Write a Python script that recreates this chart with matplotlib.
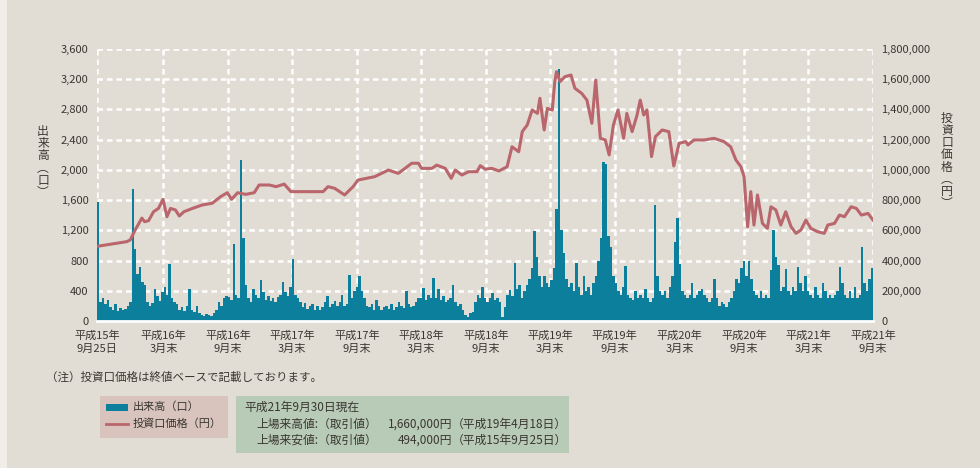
import numpy as np
import pandas as pd
import matplotlib.pyplot as plt
from matplotlib.patches import Rectangle

plt.rcParams['font.family'] = ['Noto Sans CJK JP', 'DejaVu Sans']

# 投資口価格 (円) - 終値ベース
price_dates = [
    '2003-09-25', '2003-12-18', '2003-12-28', '2004-01-11', '2004-01-30', '2004-02-07',
    '2004-02-18', '2004-03-03', '2004-03-17', '2004-03-30', '2004-04-10', '2004-04-20',
    '2004-05-04', '2004-05-15', '2004-05-28', '2004-06-21', '2004-07-19', '2004-08-16',
    '2004-09-09', '2004-09-28', '2004-10-10', '2004-10-27', '2004-11-19', '2004-12-13',
    '2004-12-27', '2005-01-25', '2005-02-13', '2005-03-08', '2005-03-27', '2005-05-14',
    '2005-06-26', '2005-07-10', '2005-07-29', '2005-08-26', '2005-09-19', '2005-10-03',
    '2005-11-19', '2005-12-28', '2006-01-25', '2006-02-13', '2006-03-04', '2006-03-23',
    '2006-04-01', '2006-04-30', '2006-05-14', '2006-06-07', '2006-06-24', '2006-07-05',
    '2006-07-24', '2006-08-12', '2006-09-05', '2006-09-14', '2006-09-28', '2006-10-17',
    '2006-11-06', '2006-11-29', '2006-12-13', '2007-01-01', '2007-01-11', '2007-01-25',
    '2007-02-08', '2007-02-23', '2007-03-02', '2007-03-14', '2007-03-23', '2007-04-06',
    '2007-04-13', '2007-04-18', '2007-04-28', '2007-05-12', '2007-05-29', '2007-06-09',
    '2007-06-28', '2007-07-13', '2007-07-27', '2007-08-07', '2007-08-20', '2007-09-03',
    '2007-09-14', '2007-09-26', '2007-10-09', '2007-10-25', '2007-11-03', '2007-11-18',
    '2007-12-02', '2007-12-11', '2007-12-21', '2007-12-30', '2008-01-12', '2008-01-23',
    '2008-02-11', '2008-03-01', '2008-03-15', '2008-03-30', '2008-04-18', '2008-04-24',
    '2008-05-11', '2008-06-09', '2008-07-07', '2008-08-04', '2008-08-23', '2008-09-07',
    '2008-09-21', '2008-09-30', '2008-10-10', '2008-10-19', '2008-10-28', '2008-11-07',
    '2008-11-21', '2008-12-05', '2008-12-15', '2008-12-29', '2009-01-12', '2009-01-26',
    '2009-02-10', '2009-02-24', '2009-03-10', '2009-03-24', '2009-04-07', '2009-04-26',
    '2009-05-15', '2009-05-25', '2009-06-13', '2009-06-27', '2009-07-11', '2009-07-30',
    '2009-08-14', '2009-08-28', '2009-09-16', '2009-09-30',
]
price_values = [
    494000, 525000, 536000, 602000, 681000, 657000,
    664000, 723000, 745000, 805000, 690000, 745000,
    735000, 695000, 723000, 745000, 768000, 779000,
    823000, 849000, 805000, 849000, 838000, 849000,
    900000, 900000, 889000, 906000, 856000, 856000,
    856000, 889000, 878000, 834000, 889000, 933000,
    955000, 999000, 977000, 1010000, 1044000, 1044000,
    1010000, 1010000, 1032000, 1010000, 944000, 999000,
    966000, 988000, 988000, 1028000, 1005000, 1010000,
    993000, 1021000, 1153000, 1120000, 1253000, 1297000,
    1396000, 1374000, 1474000, 1264000, 1407000, 1396000,
    1584000, 1650000, 1584000, 1617000, 1628000, 1540000,
    1507000, 1462000, 1308000, 1595000, 1209000, 1198000,
    1099000, 1297000, 1396000, 1209000, 1374000, 1253000,
    1363000, 1462000, 1363000, 1396000, 1088000, 1220000,
    1264000, 1253000, 1026000, 1176000, 1187000, 1165000,
    1198000, 1198000, 1209000, 1187000, 1153000, 1065000,
    1021000, 955000, 624000, 856000, 635000, 834000,
    646000, 613000, 756000, 735000, 635000, 723000,
    624000, 580000, 602000, 668000, 613000, 591000,
    580000, 635000, 646000, 701000, 690000, 756000,
    745000, 701000, 712000, 668000,
]

# 出来高 (口) - 週ごと、半期ごとに1行
volume = [
    1570, 250, 300, 220, 280, 180, 150, 220, 130, 170, 140, 160, 200, 250, 1750, 950, 620, 720, 520, 480, 250, 200, 240, 420, 330, 260, 380,
    450, 350, 760, 300, 250, 220, 150, 180, 130, 200, 420, 150, 120, 200, 100, 80, 70, 90, 80, 70, 110, 150, 250, 200, 300, 330,
    320, 280, 1020, 350, 300, 2130, 1100, 480, 300, 250, 420, 350, 300, 540, 380, 280, 330, 260, 300, 250, 320, 350, 520, 380, 330, 450,
    820, 350, 300, 250, 180, 240, 160, 200, 230, 150, 200, 140, 180, 250, 330, 180, 230, 260, 200, 250, 340, 200, 230, 610, 300, 400,
    450, 600, 400, 300, 200, 180, 220, 150, 280, 200, 150, 180, 200, 160, 220, 150, 180, 250, 200, 170, 400, 230, 180, 200, 250, 300,
    300, 440, 280, 350, 300, 570, 300, 430, 280, 330, 250, 280, 300, 480, 250, 200, 230, 150, 80, 50, 100, 120, 250, 350, 300, 450,
    300, 250, 300, 370, 280, 300, 250, 50, 180, 350, 410, 330, 770, 420, 470, 300, 400, 480, 560, 700, 1190, 850, 600, 450, 600, 500,
    450, 540, 700, 1480, 3340, 1200, 900, 550, 450, 500, 400, 770, 450, 350, 600, 400, 450, 350, 500, 600, 800, 1100, 2110, 2080, 1120, 980, 600,
    500, 400, 350, 450, 730, 350, 300, 280, 400, 300, 350, 300, 420, 300, 250, 300, 1540, 590, 400, 350, 400, 300, 450, 600, 1050, 1360,
    750, 400, 350, 300, 350, 500, 300, 350, 400, 430, 350, 300, 250, 300, 550, 300, 200, 250, 220, 180, 250, 300, 400, 550, 500, 700,
    800, 600, 800, 550, 400, 350, 300, 400, 300, 350, 300, 680, 1200, 850, 740, 400, 450, 690, 400, 350, 450, 400, 720, 500, 400, 590,
    400, 350, 300, 450, 350, 300, 500, 400, 300, 350, 300, 350, 400, 720, 500, 350, 300, 400, 300, 450, 300, 350, 980, 500, 400, 550, 700,
]

tick_dates = ['2003-09-25', '2004-03-31', '2004-09-30', '2005-03-31', '2005-09-30', '2006-03-31',
              '2006-09-30', '2007-03-31', '2007-09-30', '2008-03-31', '2008-09-30', '2009-03-31',
              '2009-09-30']
tick_labels = ['平成15年\n9月25日', '平成16年\n3月末', '平成16年\n9月末', '平成17年\n3月末',
               '平成17年\n9月末', '平成18年\n3月末', '平成18年\n9月末', '平成19年\n3月末',
               '平成19年\n9月末', '平成20年\n3月末', '平成20年\n9月末', '平成21年\n3月末',
               '平成21年\n9月末']

bg = '#e2ddd4'
teal = '#0b7f9c'
rose = '#b9666c'
txt = '#3a3632'

W, H = 980, 468


def fx(px):
    return px / W


def fy(py):
    return 1 - py / H


fig = plt.figure(figsize=(9.8, 4.68), dpi=100, facecolor=bg)
fig.patches.append(Rectangle((0, 0), fx(7), 1, transform=fig.transFigure,
                             facecolor='#f1eee9', edgecolor='none'))

ax = fig.add_axes([fx(97), fy(321), 776 / W, 272 / H])
ax.set_facecolor(bg)

vol_dates = pd.date_range('2003-09-25', '2009-09-24', periods=len(volume))
ax.bar(vol_dates, volume, width=7.0, align='edge', color=teal, linewidth=0, zorder=2)

ax.set_xlim(pd.Timestamp('2003-09-25'), pd.Timestamp('2009-09-30'))
ax.set_ylim(0, 3600)
ax.set_yticks(np.arange(0, 3601, 400))
ax.set_yticklabels([f'{v:,}' for v in range(0, 3601, 400)])
ax.set_xticks(pd.to_datetime(tick_dates))
ax.set_xticklabels(tick_labels, linespacing=1.35)

ax.grid(True, color='white', linestyle=(0, (2.2, 1.6)), linewidth=1.8, zorder=0)
ax.set_axisbelow(True)
for s in ['left', 'right', 'top']:
    ax.spines[s].set_visible(False)
ax.spines['bottom'].set_color('white')
ax.spines['bottom'].set_linewidth(2)
ax.spines['bottom'].set_zorder(3)
ax.tick_params(length=0, labelsize=8, colors=txt)
ax.tick_params(axis='y', pad=6)
ax.tick_params(axis='x', pad=7)

ax2 = ax.twinx()
ax2.plot(pd.to_datetime(price_dates), price_values, color=rose, linewidth=2.2,
         solid_joinstyle='round', zorder=3)
ax2.set_ylim(0, 1800000)
ax2.set_yticks(np.arange(0, 1800001, 200000))
ax2.set_yticklabels([f'{v:,}' for v in range(0, 1800001, 200000)])
for s in ax2.spines.values():
    s.set_visible(False)
ax2.tick_params(length=0, labelsize=8, colors=txt, pad=6)

# 縦書きの軸ラベル (縦書き用の括弧 ︵ ︶ を使う)
fig.text(fx(43), fy(162), '\n'.join('出来高︵口︶'), ha='center', va='center',
         fontsize=8.5, color=txt, linespacing=0.92)
fig.text(fx(947), fy(161), '\n'.join('投資口価格︵円︶'), ha='center', va='center',
         fontsize=8.5, color=txt, linespacing=0.92)

fig.text(fx(46), fy(377), '（注）投資口価格は終値ベースで記載しております。',
         ha='left', va='center', fontsize=8.3, color=txt)

# 凡例ボックス
fig.patches.append(Rectangle((fx(100), fy(438)), 128 / W, 42 / H,
                             transform=fig.transFigure, facecolor='#d8c4bd', edgecolor='none'))
fig.patches.append(Rectangle((fx(106), fy(411)), 22 / W, 7 / H,
                             transform=fig.transFigure, facecolor=teal, edgecolor='none'))
fig.lines.append(plt.Line2D([fx(106), fx(128)], [fy(424), fy(424)],
                            transform=fig.transFigure, color=rose, linewidth=2))
fig.text(fx(133), fy(407), '出来高（口）', ha='left', va='center', fontsize=8, color=txt)
fig.text(fx(133), fy(424), '投資口価格（円）', ha='left', va='center', fontsize=8, color=txt)

# 上場来高値・安値
fig.patches.append(Rectangle((fx(236), fy(453)), 333 / W, 57 / H,
                             transform=fig.transFigure, facecolor='#b8cbb7', edgecolor='none'))
fig.text(fx(244), fy(407), '平成21年9月30日現在', ha='left', va='center', fontsize=8.5, color=txt)
fig.text(fx(256), fy(424), '上場来高値:（取引値）', ha='left', va='center', fontsize=8.5, color=txt)
fig.text(fx(256), fy(440), '上場来安値:（取引値）', ha='left', va='center', fontsize=8.5, color=txt)
fig.text(fx(452), fy(424), '1,660,000円', ha='right', va='center', fontsize=8.5, color=txt)
fig.text(fx(452), fy(440), '494,000円', ha='right', va='center', fontsize=8.5, color=txt)
fig.text(fx(452), fy(424), '（平成19年4月18日）', ha='left', va='center', fontsize=8.5, color=txt)
fig.text(fx(452), fy(440), '（平成15年9月25日）', ha='left', va='center', fontsize=8.5, color=txt)

fig.savefig('out.png', dpi=100, facecolor=bg)
